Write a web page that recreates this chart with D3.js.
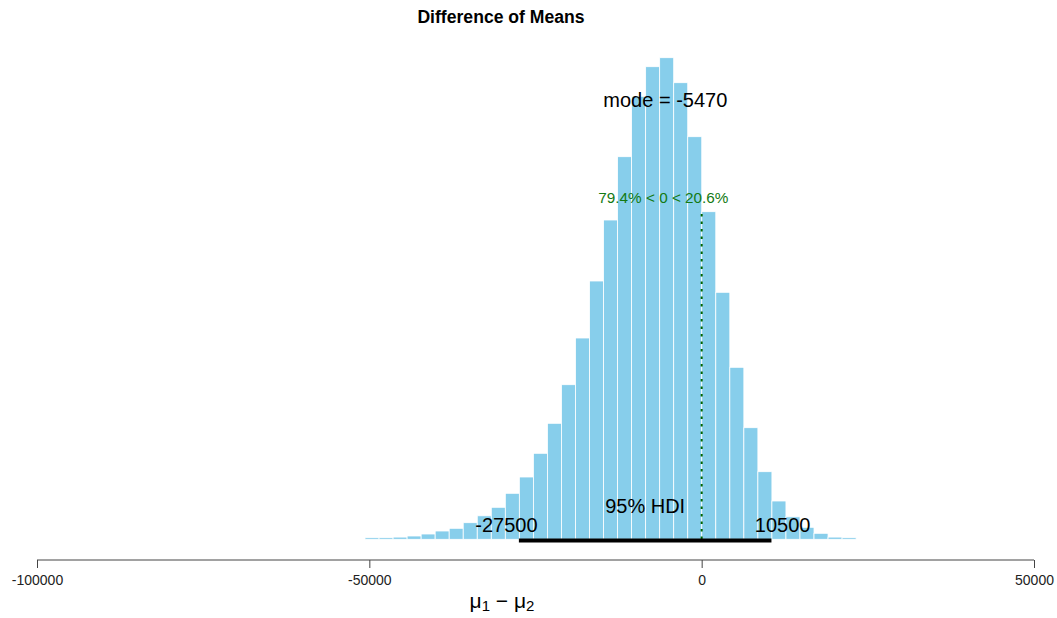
<!DOCTYPE html>
<html>
<head>
<meta charset="utf-8">
<script src="https://d3js.org/d3.v7.min.js"></script>
<style>
	body { margin: 0; background: white; }
	text { font-family: "Liberation Sans", Arial, sans-serif; }
	.bar { fill: #87ceeb; stroke: white; stroke-width: 0.8; }
</style>
</head>
<body>
<div id="container"></div>
<script>
// histogram of posterior samples, bins
var binStart = -50650;
var binWidth = 2111;
var counts = [16, 16, 22, 33, 53, 83, 110, 166, 235, 320,
	460, 623, 860, 1160, 1546, 2013, 2583, 3193, 3826, 4430,
	4726, 4816, 4566, 4026, 3276, 2470, 1720, 1116, 676, 383,
	225, 120, 60, 22, 16];
var tickValues = [-100000, -50000, 0, 50000];
var modeValue = -5470;
var hdi = [-27500, 10500];
var compValue = 0;
var pctBelow = "79.4", pctAbove = "20.6";

var W = 1057, H = 618;
var svg = d3.select("#container").append("svg")
	.attr("width", W).attr("height", H);

var x = d3.scaleLinear().domain([-100000, 50000]).range([37, 1034]);
var y = d3.scaleLinear().domain([0, d3.max(counts)]).range([539.3, 57.7]);

var bins = counts.map(function(c, i){
	return {x0: binStart + i*binWidth, x1: binStart + (i+1)*binWidth, n: c};
});

svg.selectAll("rect.bar").data(bins).enter().append("rect")
	.attr("class", "bar")
	.attr("x", function(d){ return x(d.x0); })
	.attr("width", function(d){ return x(d.x1) - x(d.x0); })
	.attr("y", function(d){ return y(d.n); })
	.attr("height", function(d){ return y(0) - y(d.n); });

// title
svg.append("text").attr("x", 501).attr("y", 23)
	.attr("text-anchor", "middle")
	.style("font-size", "17.6px").style("font-weight", "bold")
	.text("Difference of Means");

// x axis
var axis = svg.append("g").attr("transform", "translate(0,560)")
	.call(d3.axisBottom(x).tickValues(tickValues).tickSize(8).tickPadding(7)
		.tickFormat(function(d){ return String(d); }));
axis.select(".domain").attr("stroke", "#444").attr("d", "M" + x(-100000) + ",0H" + x(50000));
axis.selectAll(".tick line").attr("stroke", "#444");
axis.selectAll(".tick text").attr("fill", "#222")
	.style("font-size", "14px").style("font-family", "'Liberation Sans', Arial, sans-serif");

// x label  mu1 - mu2
var xl = svg.append("text").attr("x", 502).attr("y", 608)
	.attr("text-anchor", "middle").style("font-size", "21px");
xl.append("tspan").text("μ");
xl.append("tspan").attr("dy", 3).style("font-size", "15px").text("1");
xl.append("tspan").attr("dy", -3).text(" − μ");
xl.append("tspan").attr("dy", 3).style("font-size", "15px").text("2");

// mode label
svg.append("text").attr("x", x(modeValue)).attr("y", 107)
	.attr("text-anchor", "middle").style("font-size", "20px")
	.text("mode = " + modeValue);

// comparison value
var cvY = 203.3;
var cvText = svg.append("text").attr("y", cvY)
	.attr("fill", "#137a13").style("font-size", "15.3px")
	.text(pctBelow + "% < " + compValue + " < " + pctAbove + "%");
var tw = cvText.node().getComputedTextLength();
cvText.attr("x", x(compValue) - tw * (+pctBelow / 100));

svg.append("line")
	.attr("x1", x(compValue)).attr("x2", x(compValue))
	.attr("y1", 214).attr("y2", y(0))
	.attr("stroke", "#006400").attr("stroke-width", 2)
	.attr("stroke-dasharray", "2.5,5");

// HDI
var hdiY = 540.5;
svg.append("line")
	.attr("x1", x(hdi[0])).attr("x2", x(hdi[1]))
	.attr("y1", hdiY).attr("y2", hdiY)
	.attr("stroke", "black").attr("stroke-width", 4);

svg.append("text").attr("x", x((hdi[0] + hdi[1]) / 2)).attr("y", 513)
	.attr("text-anchor", "middle").style("font-size", "20px")
	.text("95% HDI");

var lo = svg.append("text").attr("y", 532).style("font-size", "20px").text(hdi[0]);
lo.attr("x", x(hdi[0]) - 0.7 * lo.node().getComputedTextLength());
var hi = svg.append("text").attr("y", 532).style("font-size", "20px").text(hdi[1]);
hi.attr("x", x(hdi[1]) - 0.3 * hi.node().getComputedTextLength());
</script>
</body>
</html>
